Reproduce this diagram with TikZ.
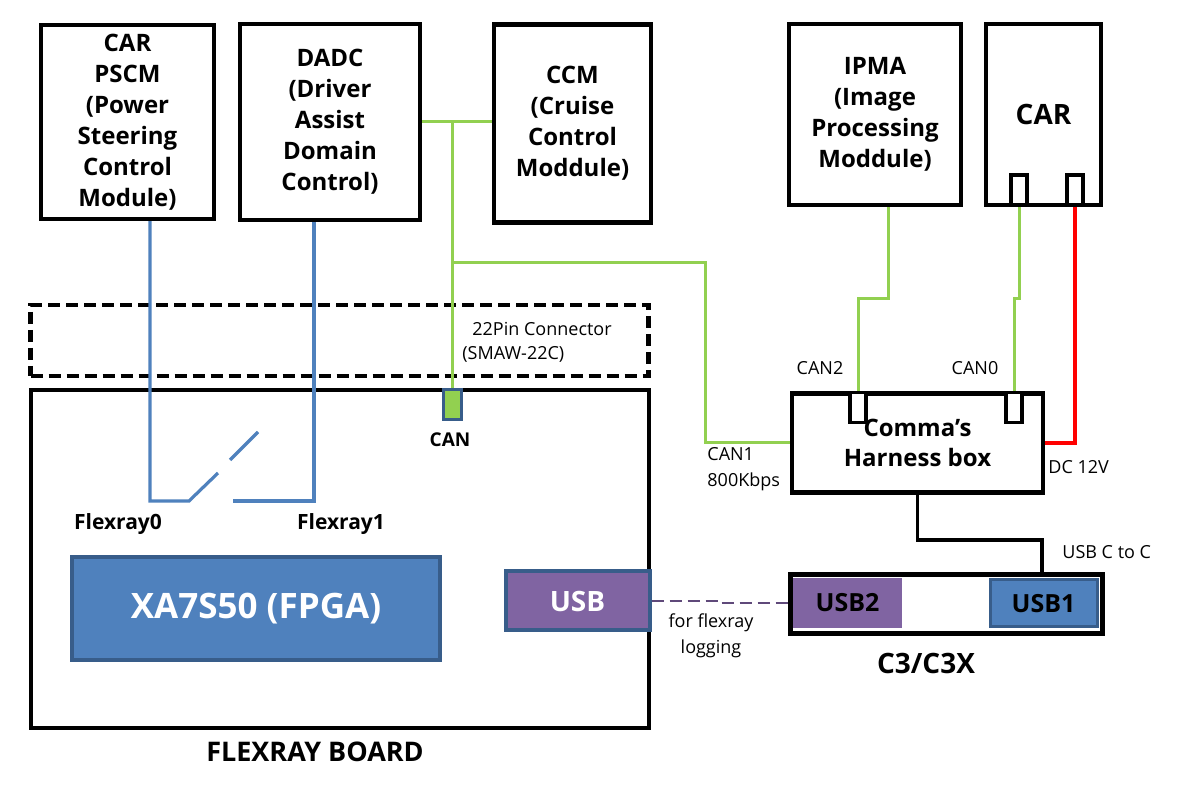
\documentclass[tikz,border=0pt]{standalone}
\usepackage{fontspec}
\setmainfont{Open Sans}
\usetikzlibrary{positioning,calc}

\definecolor{cangreen}{HTML}{92D050}
\definecolor{flexblue}{HTML}{4F81BD}
\definecolor{flexdark}{HTML}{385D8A}
\definecolor{usbpurple}{HTML}{8064A2}
\definecolor{logpurple}{HTML}{5F497A}

\begin{document}
\begin{tikzpicture}[
    x=0.5pt, y=-0.5pt,
    module/.style={draw, line width=2.2pt, align=center, inner sep=0pt,
        font=\bfseries\fontsize{12}{15.5}\selectfont},
    pin/.style={draw, line width=1.8pt, fill=white, inner sep=0pt,
        minimum width=8pt, minimum height=15pt},
    canline/.style={draw=cangreen, line width=1.5pt},
    flexline/.style={draw=flexblue, line width=1.6pt},
    lbl/.style={inner sep=0pt, align=left, font=\fontsize{9}{13}\selectfont},
    boldlbl/.style={inner sep=0pt, font=\bfseries\fontsize{10.5}{13}\selectfont}
]
\useasboundingbox (0,0) rectangle (1178,806);

% Modules in the car
\node[module, minimum width=86.5pt, minimum height=97pt] (pscm) at (127.5,122)
{CAR\\PSCM\\(Power\\Steering\\Control\\Module)};

\node[module, minimum width=90pt, minimum height=98pt] (dadc) at (330,122)
{DADC\\(Driver\\Assist\\Domain\\Control)};

\node[module, minimum width=78.5pt, minimum height=99pt] (ccm) at (572.5,123.5)
{CCM\\(Cruise\\Control\\Moddule)};

\node[module, minimum width=86pt, minimum height=90.5pt] (ipma) at (875,114.5)
{IPMA\\(Image\\Processing\\Moddule)};

\node[module, minimum width=57.5pt, minimum height=90.5pt,
    font=\bfseries\fontsize{14}{16}\selectfont] (car) at (1043.5,114.5) {CAR};
\node[pin] (carpa) at (1019,190) {};
\node[pin] (carpb) at (1075,190) {};

% Connector
\node[draw, line width=2.2pt, dash pattern=on 6pt off 3pt, inner sep=0pt,
    minimum width=309pt, minimum height=35.5pt] (conn) at (339.5,340.5) {};
\node[lbl, anchor=west] (pinlbl) at (472,329) {22Pin Connector};
\node[lbl, anchor=west] (smawlbl) at (462,354) {(SMAW-22C)};

% Flexray board
\node[draw, line width=2.4pt, inner sep=0pt,
    minimum width=309pt, minimum height=169pt] (board) at (340,559) {};
\node[boldlbl, font=\bfseries\fontsize{13.5}{16}\selectfont] (boardlbl) at (315,752) {FLEXRAY BOARD};

\node[draw=flexdark, fill=cangreen, line width=1.5pt, inner sep=0pt,
    minimum width=9pt, minimum height=15pt] (canpin) at (452,405) {};
\node[boldlbl, font=\bfseries\fontsize{9.5}{12}\selectfont] (canlbl) at (450,440) {CAN};

\node[boldlbl] (fr0lbl) at (118,524) {Flexray0};
\node[boldlbl] (fr1lbl) at (341,524) {Flexray1};

\node[draw=flexdark, fill=flexblue, line width=2pt, inner sep=0pt, text=white,
    minimum width=184pt, minimum height=51.5pt,
    font=\bfseries\fontsize{17.5}{20}\selectfont] (fpga) at (256,608.5) {XA7S50 (FPGA)};

\node[draw=flexdark, fill=usbpurple, line width=2pt, inner sep=0pt, text=white,
    minimum width=72pt, minimum height=29.5pt,
    font=\bfseries\fontsize{14}{16}\selectfont] (usb) at (577.5,601) {USB};

% Comma's harness box
\node[module, minimum width=125.5pt, minimum height=49.5pt,
    font=\bfseries\fontsize{12}{15}\selectfont] (harness) at (917.5,443)
{Comma’s\\Harness box};
\node[pin] (hpin2) at (858,407.5) {};
\node[pin] (hpin0) at (1014,407.5) {};
\node[lbl] (can2lbl) at (820,368) {CAN2};
\node[lbl] (can0lbl) at (975,368) {CAN0};
\node[lbl, anchor=west] (can1lbl) at (707,469) {CAN1\\800Kbps};
\node[lbl, anchor=west] (dclbl) at (1048,467) {DC 12V};

% C3 / C3X
\node[draw, line width=2.5pt, inner sep=0pt,
    minimum width=156pt, minimum height=29.5pt] (c3) at (946,604.5) {};
\node[fill=usbpurple, inner sep=0pt, minimum width=54.5pt, minimum height=25pt,
    font=\bfseries\fontsize{12.5}{14}\selectfont] (usb2) at (847.5,603) {USB2};
\node[draw=flexdark, fill=flexblue, line width=1.5pt, inner sep=0pt,
    minimum width=53.5pt, minimum height=23.5pt,
    font=\bfseries\fontsize{12.5}{14}\selectfont] (usb1) at (1043.5,603.5) {USB1};
\node[boldlbl, font=\bfseries\fontsize{14}{16}\selectfont] (c3lbl) at (926,663) {C3/C3X};
\node[lbl, anchor=west] (usbclbl) at (1062,552) {USB C to C};
\node[lbl, align=center] (loglbl) at (711,636) {for flexray\\logging};

% Flexray lines
\coordinate (fr0) at (150,501);
\coordinate (fr1) at (314,501);
\coordinate (swa) at (189,501);
\coordinate (swb) at (218,473);
\coordinate (swc) at (230,460);
\coordinate (swd) at (258,432);
\coordinate (swe) at (233,501);
\draw[flexline] (pscm.south -| fr0) -- (fr0) -- (swa) -- (swb);
\draw[flexline] (swc) -- (swd);
\draw[flexline] (dadc.south -| fr1) -- (fr1) -- (swe);

% CAN lines
\coordinate (canj) at (452,122);
\coordinate (canbus) at (452,263);
\coordinate (can1a) at (705,263);
\draw[canline] (dadc.east |- canj) -- (ccm.west |- canj);
\draw[canline] (canj) -- (canpin.north);
\draw[canline] (canbus) -- (can1a) -- (can1a |- harness.west) -- (harness.west);

\coordinate (can2a) at (888,299);
\coordinate (can2b) at (858,299);
\draw[canline] (ipma.south -| can2a) -- (can2a) -- (can2b) -- (hpin2.north);

\coordinate (can0a) at (1019,299);
\coordinate (can0b) at (1014,299);
\draw[canline] (carpa.south) -- (can0a) -- (can0b) -- (hpin0.north);

% Power and USB
\draw[red, line width=1.6pt] (carpb.south) |- (harness.east);
\coordinate (usbk) at (1042,540);
\draw[line width=1.6pt] (harness.south) |- (usbk) -- (usbk |- c3.north);
\coordinate (logk) at (718,603);
\draw[logpurple, line width=1.2pt, dash pattern=on 6pt off 3pt]
    (usb.east) -- (usb.east -| logk) |- (usb2.west);

\end{tikzpicture}
\end{document}
